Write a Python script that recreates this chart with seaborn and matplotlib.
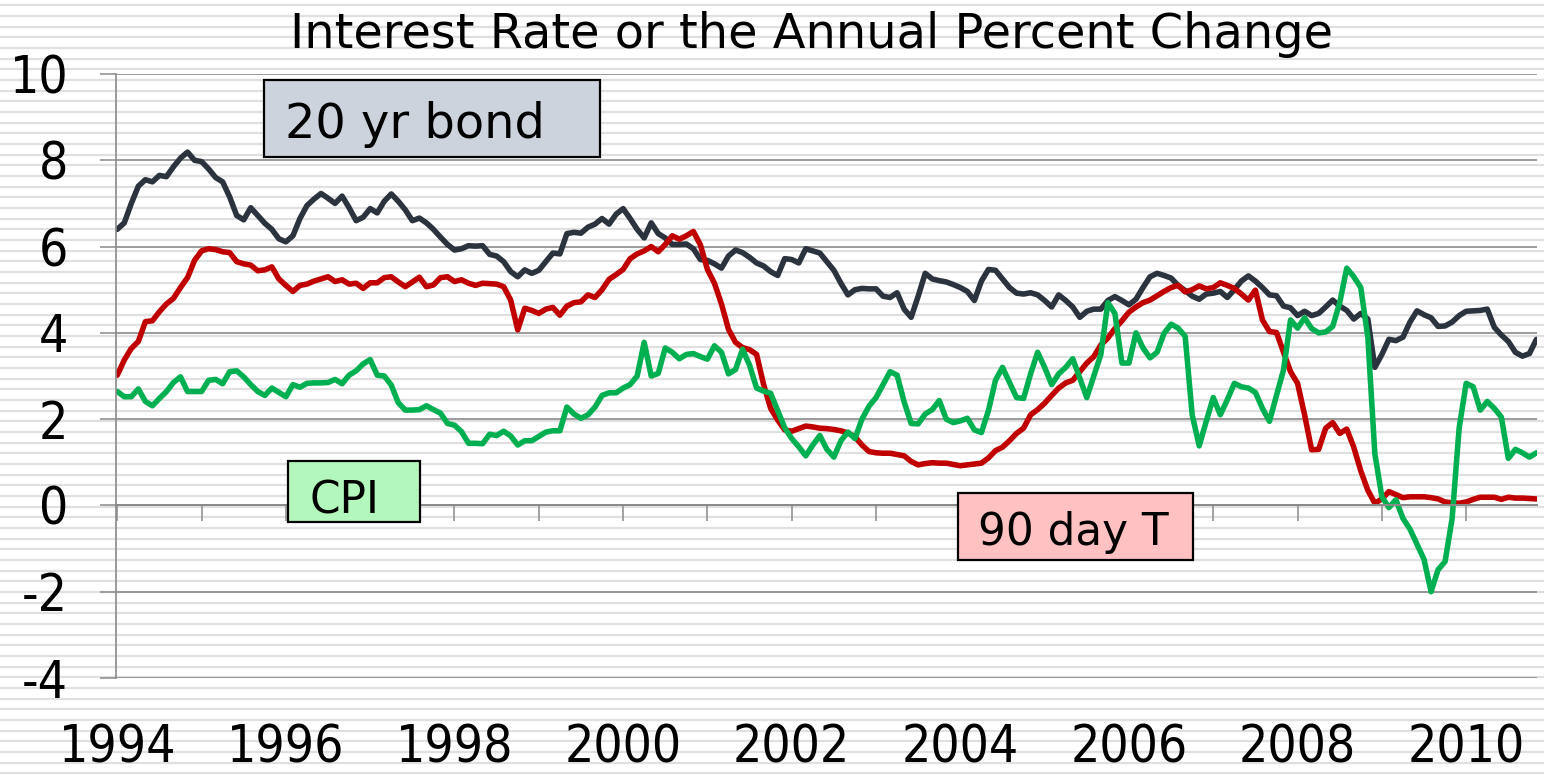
import numpy as np
import pandas as pd
import matplotlib
matplotlib.use("Agg")
import matplotlib.pyplot as plt
from matplotlib.patches import Rectangle
from matplotlib import font_manager as fm
import seaborn as sns

# ---------------- data (monthly, Jan 1994 - Nov 2010) ----------------
start_year = 1994
series_names = ["20 yr bond", "90 day T", "CPI"]

bond_20yr = [
    6.40, 6.55, 7.00, 7.40, 7.55, 7.50, 7.65, 7.62, 7.85, 8.05, 8.19, 8.00,
    7.97, 7.80, 7.60, 7.50, 7.15, 6.72, 6.62, 6.90, 6.72, 6.54, 6.40, 6.18,
    6.11, 6.25, 6.65, 6.95, 7.10, 7.23, 7.12, 7.00, 7.17, 6.90, 6.60, 6.68,
    6.88, 6.78, 7.05, 7.22, 7.05, 6.85, 6.60, 6.66, 6.55, 6.40, 6.22, 6.05,
    5.92, 5.95, 6.02, 6.01, 6.02, 5.82, 5.78, 5.65, 5.42, 5.30, 5.46, 5.38,
    5.45, 5.65, 5.85, 5.83, 6.30, 6.33, 6.31, 6.45, 6.52, 6.65, 6.52, 6.75,
    6.88, 6.65, 6.40, 6.20, 6.55, 6.30, 6.20, 6.05, 6.05, 6.06, 5.95, 5.70,
    5.68, 5.60, 5.50, 5.78, 5.92, 5.86, 5.75, 5.62, 5.55, 5.42, 5.33, 5.72,
    5.70, 5.62, 5.95, 5.90, 5.85, 5.65, 5.45, 5.15, 4.88, 5.00, 5.03, 5.02,
    5.02, 4.85, 4.82, 4.93, 4.55, 4.36, 4.85, 5.38, 5.25, 5.21, 5.18, 5.12,
    5.05, 4.96, 4.75, 5.20, 5.47, 5.45, 5.25, 5.05, 4.92, 4.90, 4.93, 4.88,
    4.75, 4.60, 4.88, 4.75, 4.60, 4.36, 4.50, 4.55, 4.55, 4.75, 4.84, 4.75,
    4.65, 4.78, 5.05, 5.30, 5.38, 5.33, 5.27, 5.10, 4.98, 4.85, 4.78, 4.90,
    4.92, 4.96, 4.82, 5.00, 5.20, 5.32, 5.20, 5.05, 4.88, 4.86, 4.62, 4.58,
    4.40, 4.50, 4.40, 4.45, 4.60, 4.76, 4.62, 4.52, 4.32, 4.45, 4.32, 3.20,
    3.50, 3.85, 3.82, 3.90, 4.25, 4.51, 4.42, 4.35, 4.15, 4.16, 4.25, 4.40,
    4.50, 4.51, 4.52, 4.55, 4.13, 3.95, 3.80, 3.55, 3.46, 3.52, 3.85,
]

tbill_90day = [
    3.02, 3.37, 3.64, 3.80, 4.26, 4.28, 4.49, 4.67, 4.80, 5.05, 5.28, 5.68,
    5.90, 5.95, 5.93, 5.88, 5.86, 5.65, 5.60, 5.57, 5.44, 5.46, 5.53, 5.25,
    5.10, 4.96, 5.10, 5.13, 5.20, 5.25, 5.30, 5.19, 5.23, 5.13, 5.15, 5.03,
    5.16, 5.16, 5.28, 5.30, 5.18, 5.07, 5.18, 5.29, 5.07, 5.11, 5.28, 5.30,
    5.19, 5.23, 5.15, 5.10, 5.15, 5.14, 5.13, 5.07, 4.76, 4.07, 4.57, 4.52,
    4.45, 4.55, 4.59, 4.41, 4.62, 4.70, 4.72, 4.88, 4.82, 5.00, 5.24, 5.35,
    5.47, 5.72, 5.83, 5.90, 6.00, 5.88, 6.05, 6.25, 6.17, 6.25, 6.35, 6.04,
    5.47, 5.15, 4.67, 4.08, 3.78, 3.66, 3.61, 3.50, 2.80, 2.25, 1.98, 1.75,
    1.72, 1.78, 1.84, 1.82, 1.79, 1.78, 1.76, 1.73, 1.68, 1.59, 1.40, 1.25,
    1.22, 1.21, 1.21, 1.18, 1.15, 1.02, 0.94, 0.97, 0.99, 0.98, 0.98, 0.95,
    0.92, 0.94, 0.96, 0.98, 1.10, 1.27, 1.35, 1.50, 1.67, 1.79, 2.10, 2.22,
    2.37, 2.55, 2.72, 2.84, 2.90, 3.10, 3.30, 3.45, 3.72, 3.88, 4.10, 4.28,
    4.48, 4.60, 4.70, 4.76, 4.86, 4.96, 5.05, 5.10, 4.95, 5.00, 5.09, 5.02,
    5.05, 5.16, 5.10, 5.03, 4.90, 4.76, 4.99, 4.30, 4.03, 4.01, 3.55, 3.10,
    2.83, 2.10, 1.29, 1.30, 1.79, 1.92, 1.67, 1.77, 1.35, 0.80, 0.35, 0.05,
    0.15, 0.32, 0.25, 0.18, 0.20, 0.20, 0.20, 0.18, 0.15, 0.08, 0.06, 0.05,
    0.08, 0.14, 0.19, 0.19, 0.19, 0.14, 0.19, 0.17, 0.17, 0.16, 0.15,
]

cpi_change = [
    2.64, 2.52, 2.52, 2.70, 2.41, 2.31, 2.48, 2.64, 2.85, 2.98, 2.64, 2.64,
    2.64, 2.90, 2.92, 2.82, 3.10, 3.12, 2.98, 2.80, 2.64, 2.55, 2.72, 2.62,
    2.52, 2.80, 2.74, 2.83, 2.84, 2.84, 2.85, 2.92, 2.82, 3.02, 3.12, 3.28,
    3.38, 3.02, 3.00, 2.79, 2.38, 2.21, 2.21, 2.22, 2.31, 2.22, 2.14, 1.90,
    1.86, 1.71, 1.44, 1.44, 1.43, 1.65, 1.62, 1.72, 1.61, 1.40, 1.50, 1.50,
    1.60, 1.70, 1.73, 1.73, 2.28, 2.12, 2.02, 2.10, 2.28, 2.55, 2.61, 2.61,
    2.72, 2.80, 3.00, 3.78, 3.00, 3.06, 3.65, 3.55, 3.40, 3.50, 3.52, 3.45,
    3.39, 3.70, 3.55, 3.05, 3.15, 3.62, 3.25, 2.72, 2.65, 2.60, 2.20, 1.80,
    1.55, 1.36, 1.15, 1.40, 1.62, 1.30, 1.12, 1.50, 1.70, 1.55, 2.00, 2.30,
    2.50, 2.80, 3.10, 3.02, 2.40, 1.90, 1.89, 2.12, 2.22, 2.43, 2.00, 1.92,
    1.96, 2.02, 1.75, 1.69, 2.20, 2.90, 3.20, 2.85, 2.50, 2.48, 3.05, 3.55,
    3.20, 2.80, 3.05, 3.20, 3.40, 2.95, 2.50, 3.00, 3.50, 4.70, 4.45, 3.30,
    3.30, 4.00, 3.65, 3.42, 3.55, 3.99, 4.20, 4.11, 3.92, 2.10, 1.38, 1.95,
    2.50, 2.10, 2.45, 2.83, 2.75, 2.72, 2.62, 2.25, 1.95, 2.55, 3.14, 4.30,
    4.11, 4.35, 4.10, 4.00, 4.02, 4.15, 4.70, 5.50, 5.30, 5.05, 3.90, 1.20,
    0.20, -0.05, 0.13, -0.30, -0.55, -0.90, -1.25, -2.00, -1.49, -1.30, -0.30, 1.80,
    2.83, 2.75, 2.21, 2.41, 2.25, 2.05, 1.09, 1.30, 1.22, 1.12, 1.22,
]

y_ticks = [-4, -2, 0, 2, 4, 6, 8, 10]
year_ticks = list(range(1994, 2011))
year_labels = list(range(1994, 2011, 2))
title_text = "Interest Rate or the Annual Percent Change"

# ---------------- build long table ----------------
frames = []
for name, vals in zip(series_names, [bond_20yr, tbill_90day, cpi_change]):
    t = start_year + np.arange(len(vals)) / 12.0
    frames.append(pd.DataFrame({"year": t, "value": vals, "series": name}))
df = pd.concat(frames, ignore_index=True)

palette = {"20 yr bond": "#2b333f", "90 day T": "#c00000", "CPI": "#00b050"}

# ---------------- fonts ----------------
cond = any(("DejaVu Sans" in f.name) and ("condensed" in str(f.stretch).lower() or "Condensed" in f.name)
           for f in fm.fontManager.ttflist)
k = 1.0 if cond else 0.9
TXT = dict(family="DejaVu Sans")

def style_num(lab):
    lab.set_fontfamily("DejaVu Sans")
    if cond:
        lab.set_fontstretch("condensed")

W, H = 1544, 775
fig = plt.figure(figsize=(W / 100, H / 100), dpi=100, facecolor="white")

# striped background across the whole figure
bg = fig.add_axes([0, 0, 1, 1], zorder=0)
bg.set_xlim(0, 1)
bg.set_ylim(H, 0)
bg.hlines(np.arange(5.2, H, 10.667), 0, 1, color="#e0e0e0", lw=1.6)
bg.axis("off")

L, R, T, B = 116, 1537, 74, 678
ax = fig.add_axes([L / W, 1 - B / H, (R - L) / W, (B - T) / H], zorder=1)
ax.set_facecolor("none")

sns.lineplot(data=df, x="year", y="value", hue="series", hue_order=series_names,
             palette=palette, lw=4.0, legend=False, ax=ax,
             solid_joinstyle="round", solid_capstyle="round")

ax.set_xlim(1993.985, 2010.84)
ax.set_ylim(-4, 10)
ax.set_xlabel("")
ax.set_ylabel("")

grid_c = "#8a8a8a"
ax.set_yticks(y_ticks)
ax.set_yticklabels([str(v) for v in y_ticks])
ax.yaxis.grid(True, color=grid_c, lw=1.2)
ax.xaxis.grid(False)
ax.set_axisbelow(True)
ax.tick_params(axis="y", direction="out", length=11.5, width=1.1, color=grid_c,
               pad=23, labelsize=37 * k)
for lab in ax.get_yticklabels():
    style_num(lab)

for s in ["top", "right"]:
    ax.spines[s].set_visible(False)
ax.spines["left"].set_color(grid_c)
ax.spines["left"].set_linewidth(1.2)
ax.spines["bottom"].set_position(("data", 0))
ax.spines["bottom"].set_color(grid_c)
ax.spines["bottom"].set_linewidth(1.4)

ax.set_xticks(year_ticks)
ax.tick_params(axis="x", direction="out", length=11.5, width=1.1, color=grid_c,
               labelbottom=False)

sec = ax.secondary_xaxis("bottom")
sec.set_xticks(year_labels)
sec.set_xticklabels([str(y) for y in year_labels])
sec.tick_params(length=0, pad=33, labelsize=37 * k)
sec.spines["bottom"].set_visible(False)
for lab in sec.get_xticklabels():
    style_num(lab)

# title
fig.text(811 / W, 1 - 48 / H, title_text, ha="center", va="baseline",
         fontsize=34.5, color="black", zorder=5, **TXT)

# label boxes
boxes = [
    ("20 yr bond", (264, 80, 600, 157), 285, 138, "#cdd3dc", 34.5),
    ("CPI", (288, 461, 420, 522), 309, 513, "#b3f7bc", 31.5),
    ("90 day T", (958, 493, 1193, 560), 978, 545, "#ffc1c1", 31.5),
]
for text, (x0, y0, x1, y1), tx, ty, fc, fs in boxes:
    fig.add_artist(Rectangle((x0 / W, 1 - y1 / H), (x1 - x0) / W, (y1 - y0) / H,
                             transform=fig.transFigure, facecolor=fc,
                             edgecolor="black", lw=1.6, zorder=6))
    fig.text(tx / W, 1 - ty / H, text, ha="left", va="baseline",
             fontsize=fs, color="black", zorder=7, **TXT)

fig.savefig("out.png", dpi=100, facecolor="white")
